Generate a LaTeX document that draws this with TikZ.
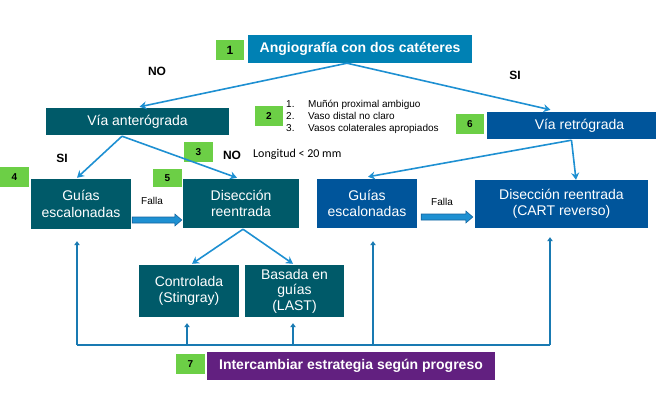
\documentclass[tikz,border=0pt]{standalone}
\usepackage{fontspec}
\setmainfont{Liberation Sans}
\newfontfamily\calib{Carlito}
\usetikzlibrary{arrows.meta,calc}
\definecolor{boxblue}{HTML}{0081B4}
\definecolor{tealbox}{HTML}{005A69}
\definecolor{dblue}{HTML}{00559B}
\definecolor{purp}{HTML}{622080}
\definecolor{lgreen}{HTML}{6CCF46}
\definecolor{arr}{HTML}{1E90D2}
\definecolor{arrdark}{HTML}{14649E}
\newcommand\blockarr[2]{\draw[blk] ($(#1)+(0,-3)$) -- ($(#2)+(-7,-3)$) -- ($(#2)+(-7,-6)$) -- (#2) -- ($(#2)+(-7,6)$) -- ($(#2)+(-7,3)$) -- ($(#1)+(0,3)$) -- cycle;}
\begin{document}
\begin{tikzpicture}[x=1pt,y=-1pt,
  box/.style={inner sep=0pt, align=center, text=white, font=\fontsize{14}{16.5}\selectfont},
  bbox/.style={box, font=\bfseries\fontsize{14}{16.5}\selectfont},
  numlab/.style={fill=lgreen, minimum width=29pt, minimum height=20pt, inner sep=0pt, font=\bfseries\fontsize{10}{12}\selectfont},
  yn/.style={font=\bfseries\fontsize{12}{14}\selectfont, inner sep=0pt},
  conn/.style={draw=arr, line width=1.6pt, -{Stealth[length=7pt,width=8pt]}},
  upar/.style={draw=arr!85!black, line width=2pt, -{Triangle[length=4pt,width=5.5pt]}},
  bus/.style={draw=arr!85!black, line width=1.3pt},
  blk/.style={fill=arr, draw=arrdark, line width=0.6pt},
  smalltxt/.style={font=\fontsize{10}{12}\selectfont, inner sep=0pt, align=left}
]
\useasboundingbox (0,0) rectangle (659,400);

% main boxes
\node[bbox, fill=boxblue, minimum width=224pt, minimum height=28pt] (n1) at (360,49) {Angiografía con dos catéteres};
\node[numlab, font=\bfseries\fontsize{12}{14}\selectfont, minimum width=28pt] (l1) at (230,50) {1};

\node[box, fill=tealbox, minimum width=183pt, minimum height=27pt] (va) at (137.5,121.5) {Vía anterógrada};
\node[box, fill=dblue, minimum width=169pt, minimum height=27pt] (vr) at (571.5,125.5) {\hspace{16pt}Vía retrógrada};
\node[numlab, minimum width=28pt] (l6) at (470,124) {6};
\node[numlab, minimum width=28pt] (l2) at (269,116) {2};

\node[smalltxt, anchor=west] (list) at (286,117) {\makebox[22pt][l]{1.}Muñón proximal ambiguo\\\makebox[22pt][l]{2.}Vaso distal no claro\\\makebox[22pt][l]{3.}Vasos colaterales apropiados};

\node[anchor=west, inner sep=0pt, font=\calib\fontsize{12}{14}\selectfont] (lon) at (253,154) {Longitud < 20 mm};
\node[numlab] (l3) at (198.5,152) {3};
\node[yn] (no2) at (232,155) {NO};
\node[yn] (no1) at (157,71) {NO};
\node[yn] (si1) at (515,75) {SI};
\node[yn] (si2) at (62,158) {SI};

\node[numlab] (l4) at (14.5,177) {4};
\node[box, fill=tealbox, minimum width=100pt, minimum height=50pt] (gl) at (81,204) {Guías\\escalonadas};
\node[numlab, minimum height=18pt] (l5) at (167.5,178) {5};
\node[box, fill=tealbox, minimum width=116pt, minimum height=49pt] (dl) at (241,203.5) {Disección\\reentrada};
\node[box, fill=dblue, minimum width=100pt, minimum height=49pt] (gr) at (367,203.5) {Guías\\escalonadas};
\node[box, fill=dblue, minimum width=173pt, minimum height=48pt] (dr) at (561.5,204) {Disección reentrada\\(CART reverso)};

\node[smalltxt] (f1) at (152,201) {Falla};
\node[smalltxt] (f2) at (442,202) {Falla};

\node[box, fill=tealbox, minimum width=100pt, minimum height=52pt] (ctl) at (189,291) {Controlada\\(Stingray)};
\node[box, fill=tealbox, minimum width=99pt, minimum height=52pt, font=\fontsize{14}{15.5}\selectfont] (bas) at (294.5,291) {Basada en\\guías\\(LAST)};

\node[bbox, fill=purp, minimum width=288pt, minimum height=28pt] (pu) at (351,366) {Intercambiar estrategia según progreso};
\node[numlab] (l7) at (190.5,364) {7};

% connectors
\coordinate (s1) at ($(n1.south)+(-13,0)$);
\draw[conn] (s1) -- ($(va.north)+(2,-1)$);
\draw[conn] (s1) -- ($(vr.north)+(-21,-2)$);
\coordinate (s2) at ($(va.south)+(-15.5,1)$);
\draw[conn] (s2) -- ($(gl.north)+(-4,-1)$);
\draw[conn] (s2) -- ($(dl.north)+(-4,-1)$);
\coordinate (s3) at ($(vr.south)+(0,1)$);
\draw[conn] (s3) -- ($(gr.north)+(1,-2)$);
\draw[conn] (s3) -- ($(dr.north)+(14.5,0)$);
\coordinate (s4) at ($(dl.south)+(2,1)$);
\draw[conn] (s4) -- ($(ctl.north)+(3,-1)$);
\draw[conn] (s4) -- ($(bas.north)+(-1.5,-1)$);

% Falla block arrows
\coordinate (fa1) at ($(gl.east)+(1,16)$);
\coordinate (fa2) at ($(dl.west)+(-1,16.5)$);
\blockarr{fa1}{fa2}
\coordinate (fb1) at ($(gr.east)+(4,13.5)$);
\coordinate (fb2) at ($(dr.west)+(-2,13)$);
\blockarr{fb1}{fb2}

% bottom feedback
\coordinate (busy) at (0,345);
\coordinate (t1) at ($(gl.south)+(-4,12)$);
\coordinate (t2) at ($(ctl.south)+(-2,6)$);
\coordinate (t3) at ($(bas.south)+(-1.5,6)$);
\coordinate (t4) at ($(gr.south)+(6,13)$);
\coordinate (t5) at ($(dr.south)+(-11.5,9)$);
\draw[bus] (t1 |- busy) -- (t5 |- busy);
\draw[upar] (t1 |- busy) -- (t1);
\draw[upar] (t2 |- busy) -- (t2);
\draw[upar] (t3 |- busy) -- (t3);
\draw[upar] (t4 |- busy) -- (t4);
\draw[upar] (t5 |- busy) -- (t5);
\end{tikzpicture}
\end{document}
